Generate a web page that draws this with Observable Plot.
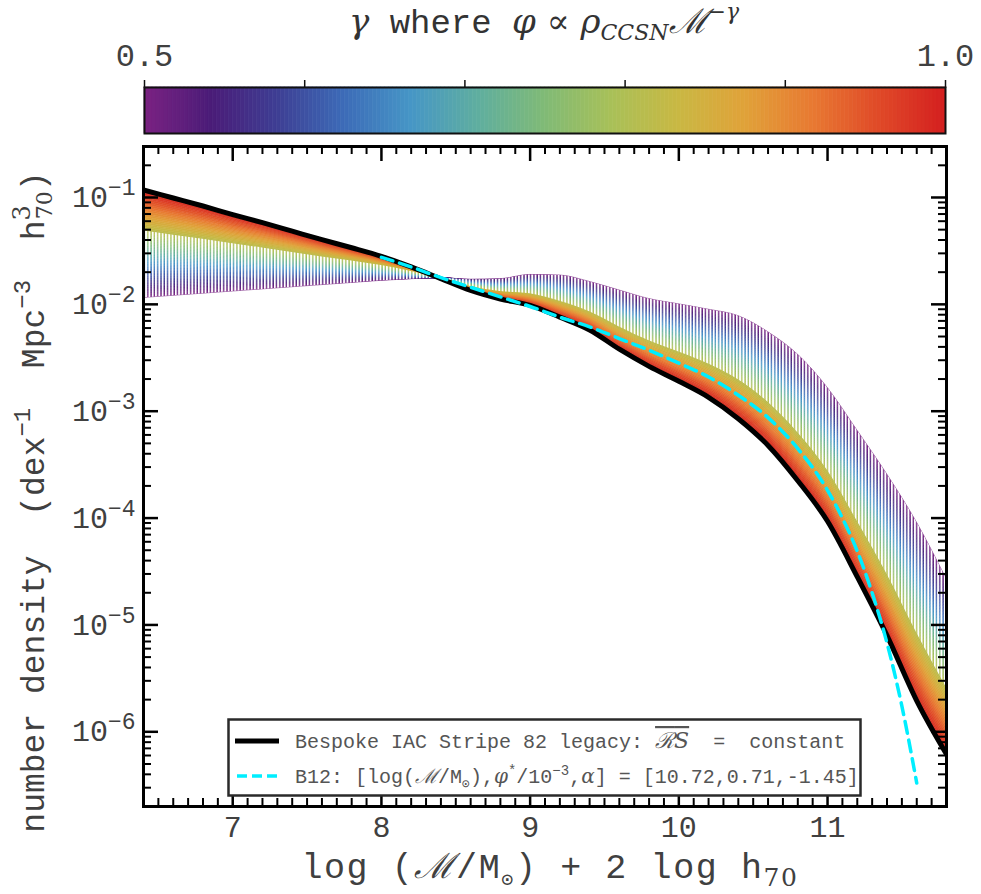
<!DOCTYPE html>
<html><head><meta charset="utf-8">
<script src="https://cdn.jsdelivr.net/npm/d3@7"></script>
<script src="https://cdn.jsdelivr.net/npm/@observablehq/plot@0.6"></script>
<style>
body{margin:0;background:#fff;}
#chart{width:981px;}
#chart svg{display:block;}
</style></head><body><div id="chart"></div>
<script>
// ---------- data ----------
const massX = [6.4, 6.6, 6.8, 7.0, 7.2, 7.4, 7.6, 7.8, 8.0, 8.2, 8.4, 8.6, 8.8, 9.0, 9.2, 9.4, 9.6, 9.8, 10.0, 10.2, 10.4, 10.6, 10.8, 11.0, 11.2, 11.4, 11.6, 11.8];
// log10 number density, gamma = 1.0 (Bespoke IAC Stripe 82 legacy, black line)
const logPhiBespoke = [-0.93, -1.005, -1.08, -1.16, -1.235, -1.315, -1.395, -1.47, -1.55, -1.65, -1.76, -1.87, -1.95, -2.01, -2.12, -2.24, -2.42, -2.58, -2.72, -2.87, -3.07, -3.32, -3.65, -4.03, -4.55, -5.10, -5.71, -6.21];
// log10 number density, gamma = 0.5 (purple edge of the fan)
const logPhiGammaHalf = [-1.94, -1.92, -1.90, -1.88, -1.86, -1.84, -1.82, -1.80, -1.78, -1.765, -1.755, -1.77, -1.765, -1.725, -1.73, -1.79, -1.87, -1.95, -2.00, -2.05, -2.11, -2.26, -2.47, -2.78, -3.18, -3.59, -4.04, -4.57];
// B12 Schechter fit (cyan dashed)
const b12X = [8.0, 8.2, 8.4, 8.6, 8.8, 9.0, 9.2, 9.4, 9.6, 9.8, 10.0, 10.2, 10.4, 10.6, 10.8, 11.0, 11.1, 11.2, 11.3, 11.4, 11.5, 11.6];
const logPhiB12 = [-1.56, -1.65, -1.75, -1.84, -1.93, -2.02, -2.12, -2.21, -2.32, -2.43, -2.55, -2.68, -2.85, -3.06, -3.35, -3.74, -4.00, -4.31, -4.70, -5.17, -5.76, -6.48];
const gammaDomain = [0.5, 1.0];
const stripeEndGamma = 0.81;   // above this gamma the fan is drawn solid
const cbTicks = [0.5, 0.6, 0.7, 0.8, 0.9, 1.0];
const cbTickLabels = ["0.5", "", "", "", "", "1.0"];
const xTicks = [7, 8, 9, 10, 11];
const yTicks = [1e-6, 1e-5, 1e-4, 1e-3, 1e-2, 1e-1];

// ---------- styles ----------
const MONO = '"Liberation Mono", "DejaVu Sans Mono", monospace';
const SERIF = '"DejaVu Serif", "Liberation Serif", serif';
const TXT = "#404040";
const cmapStops = ["#7b2282","#4b1c78","#3e3f94","#3d6cb8","#4696c6","#5fae9f","#80ba76","#a8c058","#c9b843","#e0a239","#e87a32","#e04a28","#d42020"];
const cmap = d3.piecewise(d3.interpolateRgb, cmapStops);

// ---------- derived tables ----------
const bespoke = massX.map((x, i) => ({x, y: Math.pow(10, logPhiBespoke[i])}));
const b12 = b12X.map((x, i) => ({x, y: Math.pow(10, logPhiB12[i])}));
const phiAt = (i, g) => {
  const lo = logPhiGammaHalf[i], hi = logPhiBespoke[i];
  return Math.pow(10, lo + (g - 0.5) / 0.5 * (hi - lo));
};
const NG = 60, gStep = 0.5 / NG;
const bandRows = [];
for (let k = 0; k < NG; k++) {
  const g0 = 0.5 + k * gStep, g1 = g0 + gStep;
  massX.forEach((x, i) => bandRows.push({x, k, g: (g0 + g1) / 2, y1: phiAt(i, g0), y2: phiAt(i, g1)}));
}
const hatchRows = massX.map((x, i) => ({x, y1: phiAt(i, 0.5), y2: phiAt(i, stripeEndGamma)}));
const xMinor = d3.range(65, 118).map(v => v / 10).filter(v => !xTicks.includes(v));
const yMinor = [];
for (let e = -7; e <= -1; e++) for (let m = 2; m <= 9; m++) { const v = m * Math.pow(10, e); if (v > 2.05e-7 && v < 0.29) yMinor.push(v); }

// ---------- colorbar ----------
const cbSteps = d3.range(0, 200).map(i => 0.5 + i * 0.0025);
const W = 981;
const colorbar = Plot.plot({
  width: W, height: 140,
  marginLeft: 144, marginRight: 36, marginTop: 87, marginBottom: 7,
  x: {domain: gammaDomain},
  y: {domain: [0, 1], axis: null},
  color: {type: "linear", domain: gammaDomain, interpolate: cmap},
  style: {fontFamily: MONO, fontSize: "32px", color: "#222", background: "white"},
  marks: [
    Plot.rect(cbSteps, {x1: d => d, x2: d => d + 0.0025, y1: 0, y2: 1, fill: d => d + 0.00125, stroke: d => d + 0.00125, strokeWidth: 0.6}),
    Plot.frame({stroke: "#111", strokeWidth: 2}),
    Plot.axisX({anchor: "top", label: null, ticks: cbTicks, tickSize: 8, tickPadding: 14, fontSize: 32,
      tickFormat: d => cbTickLabels[cbTicks.findIndex(t => Math.abs(t - d) < 1e-9)]})
  ]
});

// ---------- main chart ----------
const HIN = 754 - 6 - 88, WIN = W - 143 - 35;
const main = Plot.plot({
  width: W, height: 754,
  marginLeft: 143, marginRight: 35, marginTop: 6, marginBottom: 88,
  x: {domain: [6.4, 11.8]},
  y: {type: "log", domain: [2e-7, 0.3]},
  color: {type: "linear", domain: gammaDomain, interpolate: cmap},
  style: {fontFamily: MONO, fontSize: "30px", color: TXT, background: "white"},
  marks: [
    Plot.areaY(bandRows, {x: "x", y1: "y1", y2: "y2", z: "k", fill: "g", stroke: "g", strokeWidth: 0.6, curve: "monotone-x", clip: true}),
    Plot.areaY(hatchRows, {x: "x", y1: "y1", y2: "y2", fill: "url(#hatch)", curve: "monotone-x", clip: true}),
    Plot.line(bespoke, {x: "x", y: "y", stroke: "black", strokeWidth: 5, curve: "monotone-x", clip: true}),
    Plot.line(b12, {x: "x", y: "y", stroke: "#00eeff", strokeWidth: 3.5, strokeDasharray: "12,7", curve: "monotone-x", clip: true}),
    // inward ticks on all four sides
    Plot.ruleX(xTicks, {x: d => d, insetTop: HIN - 15, stroke: "black", strokeWidth: 2.5}),
    Plot.ruleX(xTicks, {x: d => d, insetBottom: HIN - 15, stroke: "black", strokeWidth: 2.5}),
    Plot.ruleX(xMinor, {x: d => d, insetTop: HIN - 8, stroke: "black", strokeWidth: 2}),
    Plot.ruleX(xMinor, {x: d => d, insetBottom: HIN - 8, stroke: "black", strokeWidth: 2}),
    Plot.ruleY(yTicks, {y: d => d, insetRight: WIN - 15, stroke: "black", strokeWidth: 2.5}),
    Plot.ruleY(yTicks, {y: d => d, insetLeft: WIN - 15, stroke: "black", strokeWidth: 2.5}),
    Plot.ruleY(yMinor, {y: d => d, insetRight: WIN - 8, stroke: "black", strokeWidth: 2}),
    Plot.ruleY(yMinor, {y: d => d, insetLeft: WIN - 8, stroke: "black", strokeWidth: 2}),
    Plot.frame({stroke: "black", strokeWidth: 3}),
    // legend box
    Plot.frame({fill: "white", stroke: "#2a2a2a", strokeWidth: 2.5, insetLeft: 85, insetRight: 86, insetTop: 573, insetBottom: 11}),
    Plot.axisX({ticks: xTicks, label: null, tickSize: 0, tickPadding: 9, fontSize: 30, tickFormat: d => String(d)}),
    Plot.axisY({ticks: yTicks, label: null, tickSize: 0, tickPadding: 8, fontSize: 30, tickFormat: d => `10^${Math.round(Math.log10(d))}`})
  ]
});

const chart = document.getElementById("chart");
chart.appendChild(colorbar);
chart.appendChild(main);

// ---------- rich text helper ----------
function rich(sel, parts) {
  sel.text(null);
  let shift = 0;
  parts.forEach(p => {
    const t = sel.append("tspan").text(p.t);
    const target = p.sup ? -p.sup : (p.sub ? p.sub : 0);
    const dy = target - shift;
    if (dy) t.attr("dy", dy);
    shift = target;
    if (p.dx) t.attr("dx", p.dx);
    if (p.size) t.attr("font-size", p.size);
    if (p.font) t.attr("font-family", p.font);
    if (p.italic) t.attr("font-style", "italic");
    if (p.deco) t.style("text-decoration", p.deco);
  });
}

// colorbar texts
const cb = d3.select(colorbar);
cb.selectAll("text").attr("fill", TXT);
cb.selectAll('[aria-label="x-axis tick"]').attr("stroke", "#111").attr("stroke-width", 1.5);
const title = cb.append("text").attr("x", 544).attr("y", 33).attr("text-anchor", "middle")
  .attr("font-family", MONO).attr("font-size", 34).attr("fill", "#333");
rich(title, [
  {t: "γ", font: SERIF, italic: true},
  {t: " where "},
  {t: "φ", font: SERIF, italic: true},
  {t: " ∝ ", font: SERIF},
  {t: "ρ", font: SERIF, italic: true},
  {t: "CCSN", font: SERIF, italic: true, size: 22, sub: 7},
  {t: "ℳ", font: SERIF, italic: true},
  {t: "−γ", font: SERIF, italic: true, size: 22, sup: 14}
]);

// main texts
const mn = d3.select(main);
mn.insert("defs", ":first-child").html(
  '<pattern id="hatch" patternUnits="userSpaceOnUse" width="3.3" height="20"><rect x="0" y="0" width="1.9" height="20" fill="white"/></pattern>');
mn.selectAll("text").each(function() {
  const s = d3.select(this);
  const m = /^10\^(-?\d+)$/.exec(s.text());
  if (m) rich(s, [{t: "10"}, {t: m[1].replace("-", "−"), size: 23, sup: 12}]);
});

const xl = mn.append("text").attr("x", 550).attr("y", 738).attr("text-anchor", "middle")
  .attr("font-family", MONO).attr("font-size", 35).attr("letter-spacing", 1.6).attr("fill", TXT);
rich(xl, [
  {t: "log ("},
  {t: "ℳ", font: SERIF, italic: true},
  {t: "/M"},
  {t: "⊙", size: 20, sub: 8},
  {t: ") + 2 log h"},
  {t: "70", font: SERIF, size: 25, sub: 8}
]);

const yl = mn.append("text").attr("transform", "translate(44,362) rotate(-90)").attr("text-anchor", "middle")
  .attr("font-family", MONO).attr("font-size", 33).attr("fill", TXT);
rich(yl, [
  {t: "number density\u00a0\u00a0(dex"},
  {t: "−1", size: 24, sup: 14},
  {t: "\u00a0\u00a0Mpc"},
  {t: "−3", size: 24, sup: 14},
  {t: "\u00a0\u00a0h"},
  {t: "3", font: SERIF, size: 24, sup: 14},
  {t: "70", font: SERIF, size: 22, sub: 8, dx: -14}
]);
yl.append("tspan").attr("dy", -8).text(")");

// legend contents
mn.append("line").attr("x1", 235).attr("x2", 279).attr("y1", 601).attr("y2", 601)
  .attr("stroke", "black").attr("stroke-width", 5);
mn.append("line").attr("x1", 237).attr("x2", 279).attr("y1", 636).attr("y2", 636)
  .attr("stroke", "#00eeff").attr("stroke-width", 3.5).attr("stroke-dasharray", "10,5");
const l1 = mn.append("text").attr("x", 295).attr("y", 608).attr("text-anchor", "start")
  .attr("font-family", MONO).attr("font-size", 20).attr("fill", "#555");
rich(l1, [
  {t: "Bespoke IAC Stripe 82 legacy: "},
  {t: "ℛ", font: SERIF, italic: true, size: 22, deco: "overline"},
  {t: "S", font: SERIF, italic: true, size: 22, deco: "overline"},
  {t: "\u00a0\u00a0=\u00a0\u00a0constant"}
]);
const l2 = mn.append("text").attr("x", 295).attr("y", 643).attr("text-anchor", "start")
  .attr("font-family", MONO).attr("font-size", 20).attr("fill", "#555");
rich(l2, [
  {t: "B12: [log("},
  {t: "ℳ", font: SERIF, italic: true},
  {t: "/M"},
  {t: "⊙", size: 13, sub: 5},
  {t: "),"},
  {t: "φ", font: SERIF, italic: true},
  {t: "*", size: 14, sup: 8},
  {t: "/10"},
  {t: "−3", size: 14, sup: 8},
  {t: ","},
  {t: "α", font: SERIF, italic: true},
  {t: "] = [10.72,0.71,-1.45]"}
]);
</script></body></html>
